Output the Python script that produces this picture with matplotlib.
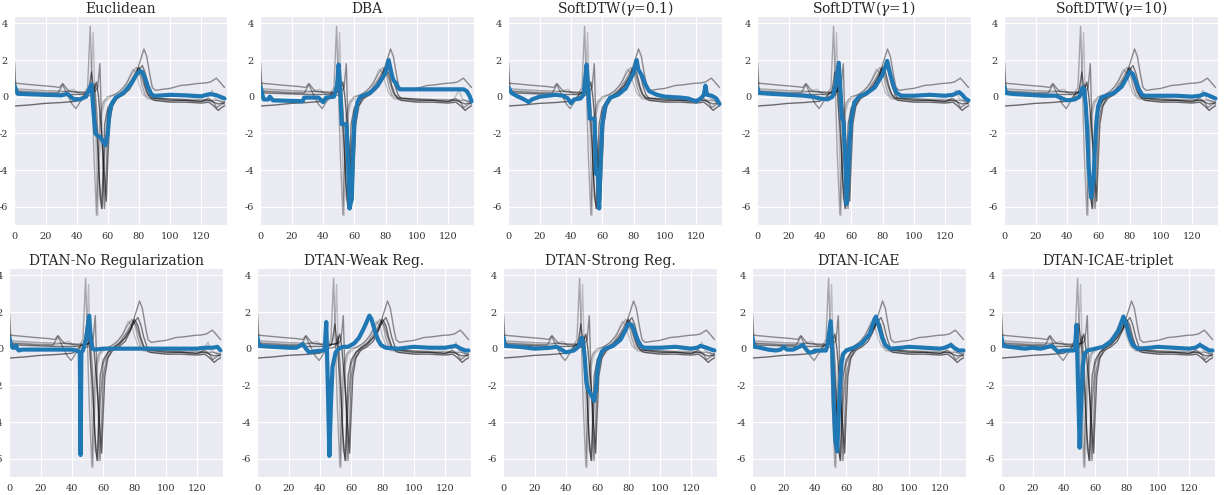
import matplotlib
matplotlib.use('Agg')
import matplotlib.pyplot as plt
import seaborn as sns

sns.set_style('darkgrid')
plt.rcParams['font.family'] = ['DejaVu Serif']
plt.rcParams['mathtext.fontset'] = 'dejavuserif'
plt.rcParams['axes.unicode_minus'] = False

# ---------------- data: input (gray) series, keypoints (x, y) ----------------
g1_x = [0, 1, 3, 10, 20, 30, 40, 45, 47, 48, 49.5, 51, 53, 54.5, 56, 57, 58, 60, 63, 66, 70, 74, 77, 80, 82.2, 84, 86, 88, 90, 95, 100, 110, 120, 125, 128, 131, 133, 135]
g1_y = [1.9, 0.3, 0.2, 0.18, 0.15, 0.12, 0.12, 0.15, 0.2, 0.5, 1.35, 0.3, -2.0, -4.5, -6.1, -4.0, -1.5, -0.6, -0.2, 0.05, 0.25, 0.6, 1.0, 1.45, 1.7, 1.3, 0.6, 0.1, -0.1, -0.15, -0.2, -0.2, -0.25, -0.2, -0.3, -0.4, -0.35, -0.4]

g2_x = [0, 5, 15, 25, 29, 31, 33, 35, 40, 45, 50, 52, 53.5, 54.9, 56, 57.9, 59, 60, 62, 65, 70, 74, 78, 81, 83.2, 85, 87, 88.6, 90.7, 95, 100, 106.7, 112, 118, 123, 126, 129.8, 132, 135]
g2_y = [0.74, 0.7, 0.62, 0.55, 0.5, 0.72, 0.5, 0.3, 0.25, 0.25, 0.25, 0.3, 0.5, 1.8, -1.5, -6.1, -4.0, -1.5, -0.6, -0.1, 0.2, 0.6, 1.2, 2.0, 2.6, 2.2, 1.2, 0.5, 0.34, 0.4, 0.45, 0.61, 0.65, 0.72, 0.75, 0.8, 1.01, 0.8, 0.5]

g3_x = [0, 10, 19, 30, 40, 43, 46, 49, 51, 52.7, 54, 56, 58, 59, 60, 61, 63, 66, 70, 74, 77, 80, 82, 84, 86, 88, 90, 100, 110, 120, 125, 128, 131, 133, 135]
g3_y = [-0.51, -0.45, -0.37, -0.32, -0.25, -0.1, 0.2, 0.25, 0.3, 0.8, 0.0, -2.0, -4.5, -5.7, -3.5, -1.5, -0.5, -0.1, 0.1, 0.4, 0.9, 1.6, 1.3, 0.6, 0.1, -0.1, -0.2, -0.3, -0.3, -0.35, -0.3, -0.5, -0.75, -0.6, -0.5]

g4_x = [0, 10, 20, 30, 40, 45, 47, 48.7, 50, 51, 52.7, 54, 55, 57, 60, 64, 68, 72, 75, 78.3, 80, 82, 84, 86, 90, 100, 110, 120, 125, 130, 135]
g4_y = [0.43, 0.38, 0.33, 0.3, 0.25, 0.2, 0.5, 3.84, 0.0, -3.0, -6.45, -3.0, -1.0, -0.3, 0.0, 0.1, 0.3, 0.7, 1.2, 1.6, 1.4, 0.6, 0.1, -0.05, -0.1, -0.1, -0.15, -0.15, -0.2, -0.2, -0.3]

g5_x = [0, 10, 20, 30, 38, 42, 46, 48, 49.5, 50.6, 51.5, 52.5, 53.4, 54.5, 56, 58, 62, 66, 70, 73, 76, 78, 80, 82, 85, 90, 100, 110, 120, 124, 127, 129, 131, 135]
g5_y = [0.33, 0.3, 0.25, 0.22, 0.4, 0.1, 0.1, 0.3, 1.0, 3.5, 0.5, -3.0, -6.5, -3.5, -1.0, -0.3, 0.0, 0.2, 0.5, 0.9, 1.5, 1.3, 0.7, 0.2, -0.1, -0.2, -0.25, -0.2, -0.3, -0.1, 0.35, -0.1, -0.2, -0.3]

g6_x = [0, 10, 20, 28, 31, 34, 37, 39.5, 42, 45, 48, 50, 51.5, 53, 55, 56.5, 58, 60, 63, 67, 71, 75, 79, 81, 83, 85, 88, 95, 100, 110, 120, 125, 128, 130, 135]
g6_y = [0.3, 0.25, 0.2, 0.2, 0.65, 0.1, -0.4, -0.65, -0.3, 0.0, 0.05, 0.1, 0.7, -1.0, -5.5, -6.1, -3.0, -0.8, -0.2, 0.1, 0.4, 0.9, 1.5, 1.3, 0.7, 0.2, -0.05, -0.1, -0.15, -0.2, -0.25, -0.1, -0.3, -0.6, -0.3]

gray_series = [(g1_x, g1_y), (g2_x, g2_y), (g3_x, g3_y), (g4_x, g4_y), (g5_x, g5_y), (g6_x, g6_y)]
gray_alphas = [0.5, 0.42, 0.55, 0.3, 0.2, 0.4]

# ---------------- data: averages (blue), keypoints per method ----------------
titles = ['Euclidean', 'DBA', r'SoftDTW($\gamma$=0.1)', r'SoftDTW($\gamma$=1)', r'SoftDTW($\gamma$=10)',
          'DTAN-No Regularization', 'DTAN-Weak Reg.', 'DTAN-Strong Reg.', 'DTAN-ICAE', 'DTAN-ICAE-triplet']

euc_x = [0, 2, 10, 20, 30, 34, 38, 42, 46, 48.5, 49.5, 51, 52, 53, 55, 57, 58.5, 60, 61, 62.5, 65, 70, 75, 78, 80.5, 82, 84, 86, 88, 90, 100, 110, 120, 125, 127, 130, 135]
euc_y = [0.6, 0.16, 0.13, 0.1, 0.07, 0.15, -0.13, -0.15, 0.0, 0.5, 0.67, -1.0, -2.0, -2.1, -2.2, -2.45, -2.65, -2.0, -0.9, -0.4, -0.05, 0.2, 0.7, 1.15, 1.4, 1.35, 1.0, 0.5, 0.13, 0.04, 0.1, 0.07, 0.02, 0.13, 0.13, 0.07, -0.1]

dba_x = [0, 2, 5, 6, 8, 27, 28, 37, 39, 40, 42, 47, 49, 50, 51, 52, 55, 56, 57, 58.5, 59, 60, 61, 62, 64, 70, 75, 80, 82, 84, 85, 87, 88, 89, 90, 130, 132, 134, 135]
dba_y = [0.55, -0.15, -0.15, 0.0, -0.2, -0.25, -0.05, -0.05, -0.2, -0.3, -0.05, 0.0, 0.6, 1.75, 0.5, -1.5, -1.5, -3.5, -6.1, -5.5, -3.5, -1.3, -0.9, -0.3, 0.0, 0.2, 0.6, 1.3, 2.0, 1.2, 0.9, 0.7, 0.5, 0.4, 0.4, 0.4, 0.3, 0.0, -0.25]

sd01_x = [0, 2, 5, 10, 13, 15, 20, 25, 30, 35, 38, 40, 42, 46, 48, 50, 51, 52, 55, 56, 57, 58, 59, 60, 62, 65, 70, 75, 80, 82, 83, 85, 88, 90, 95, 100, 110, 115, 120, 123, 125, 126, 127, 130, 133, 135]
sd01_y = [0.5, 0.2, 0.05, -0.15, -0.3, -0.15, 0.0, 0.05, 0.1, 0.05, -0.1, -0.35, -0.15, -0.1, 0.1, 1.75, 0.5, -1.2, -1.2, -4.2, -4.0, -6.1, -3.5, -1.5, -0.5, -0.05, 0.1, 0.45, 1.3, 2.0, 1.5, 1.2, 0.6, 0.3, 0.1, 0.0, -0.05, -0.1, -0.25, -0.1, 0.1, 0.6, 0.1, 0.05, -0.1, -0.4]

sd1_x = [0, 1, 10, 20, 30, 35, 40, 45, 48, 50, 52, 53, 54, 55, 56, 57, 58, 59, 60, 62, 65, 70, 75, 80, 83, 85, 87, 89, 92, 100, 110, 120, 125, 129, 131, 133, 135]
sd1_y = [0.45, 0.2, 0.15, 0.1, 0.05, 0.0, -0.1, -0.15, 0.0, 0.6, 1.85, 0.5, -1.2, -1.3, -3.0, -5.85, -4.5, -2.5, -1.2, -0.3, 0.0, 0.2, 0.5, 1.2, 1.95, 1.2, 0.6, 0.2, 0.05, 0.05, 0.1, 0.05, 0.1, 0.25, 0.1, -0.1, -0.2]

sd10_x = [0, 1, 5, 15, 25, 33, 37, 40, 45, 48, 50, 51, 52, 53, 54, 55.5, 57, 58, 59, 60, 62, 65, 70, 75, 78, 80, 82, 84, 86, 88, 90, 100, 110, 120, 125, 128, 131, 135]
sd10_y = [0.55, 0.2, 0.15, 0.1, 0.05, 0.05, -0.1, -0.2, -0.15, 0.0, 0.5, 0.4, -0.5, -2.0, -4.0, -5.5, -4.5, -2.5, -1.2, -0.5, -0.05, 0.05, 0.2, 0.55, 1.0, 1.35, 1.25, 0.8, 0.4, 0.1, 0.05, 0.05, 0.05, 0.0, 0.05, 0.15, 0.05, -0.1]

dnr_x = [0, 1, 2, 3, 4.3, 5, 6, 8, 15, 30, 40, 43, 45, 45.5, 46, 47, 49, 51, 52, 53, 55, 60, 120, 125, 130, 133, 135]
dnr_y = [0.6, 0.2, 0.05, 0.05, 0.18, 0.0, -0.1, -0.05, -0.05, -0.05, -0.05, -0.1, -0.2, -5.8, -0.2, -0.1, 0.5, 1.8, 0.5, 0.0, -0.05, 0.0, 0.0, 0.05, 0.05, 0.1, -0.1]

dwk_x = [0, 1, 10, 20, 25, 27, 29, 31, 33, 36, 42, 43, 44, 45, 46, 47, 48, 50, 52, 55, 58, 62, 65, 68, 71.6, 73, 75, 77, 79, 82, 90, 100, 110, 120, 126.8, 130, 133, 135]
dwk_y = [0.6, 0.15, 0.1, 0.05, 0.05, 0.15, 0.25, 0.0, -0.2, -0.15, -0.1, 0.0, 1.45, -2.0, -5.85, -3.0, -1.0, -0.2, 0.0, 0.1, 0.1, 0.3, 0.6, 1.1, 1.8, 1.6, 1.0, 0.5, 0.2, 0.05, 0.0, 0.1, 0.05, 0.05, 0.15, 0.0, -0.1, -0.1]

dst_x = [0, 1, 10, 20, 30, 34, 38, 40, 45, 48, 50, 51, 52, 53, 54, 56, 58, 59, 60, 61, 63, 65, 70, 75, 78, 80, 82, 84, 86, 88, 90, 100, 110, 120, 124, 126, 130, 133, 135]
dst_y = [0.6, 0.15, 0.1, 0.0, 0.05, 0.1, -0.1, -0.2, -0.1, 0.1, 0.6, 0.3, -0.5, -1.8, -2.2, -2.5, -2.85, -2.3, -1.3, -0.6, -0.15, 0.0, 0.15, 0.5, 1.0, 1.35, 1.3, 0.9, 0.45, 0.15, 0.05, 0.05, 0.1, 0.0, 0.05, 0.15, 0.05, -0.05, -0.1]

dic_x = [0, 1, 5, 10, 15, 18, 20, 22, 26, 30, 32, 34, 36, 38, 40, 47, 48, 50, 51, 52, 53, 54.2, 55, 56, 57, 58, 60, 65, 70, 75, 78, 79, 81, 83, 85, 88, 95, 100, 110, 120, 123, 127, 129, 132, 135]
dic_y = [0.6, 0.1, 0.05, -0.05, -0.1, -0.05, 0.1, -0.05, -0.05, 0.1, 0.2, 0.0, -0.2, -0.2, -0.1, -0.1, 0.2, 1.5, 0.0, -3.0, -5.0, -5.6, -4.0, -2.0, -0.8, -0.3, -0.1, 0.05, 0.3, 0.8, 1.6, 1.75, 1.2, 0.6, 0.2, 0.0, 0.05, 0.1, 0.05, 0.0, 0.05, 0.2, 0.05, -0.1, -0.1]

dtr_x = [0, 1, 5, 10, 15, 20, 25, 30, 32, 34, 36, 40, 46, 47, 48, 49, 50, 51, 52, 53, 55, 60, 65, 70, 75, 77, 78, 80, 82, 84, 87, 95, 100, 110, 120, 124, 127, 130, 133, 135]
dtr_y = [0.6, 0.15, 0.1, 0.05, 0.0, 0.05, 0.0, 0.1, 0.15, 0.0, -0.15, -0.1, -0.1, 0.0, 1.3, -2.0, -5.4, -3.0, -1.0, -0.3, -0.1, 0.0, 0.1, 0.4, 1.0, 1.5, 1.75, 1.3, 0.6, 0.2, 0.0, 0.05, 0.1, 0.05, 0.0, 0.05, 0.2, 0.05, -0.1, -0.1]

avg_series = [(euc_x, euc_y), (dba_x, dba_y), (sd01_x, sd01_y), (sd1_x, sd1_y), (sd10_x, sd10_y),
              (dnr_x, dnr_y), (dwk_x, dwk_y), (dst_x, dst_y), (dic_x, dic_y), (dtr_x, dtr_y)]

xticks = [0, 20, 40, 60, 80, 100, 120]
yticks = [-6, -4, -2, 0, 2, 4]

# ---------------- layout ----------------
W, H = 1225, 495
fig = plt.figure(figsize=(W / 100, H / 100), dpi=100)
top_lefts = [14, 260, 508, 757, 1004]
bot_lefts = [9, 257, 503, 752, 1001]
aw = 214
rows = [(top_lefts, 16, 225), (bot_lefts, 268, 477)]

idx = 0
for lefts, ytop, ybot in rows:
    for left in lefts:
        ax = fig.add_axes([left / W, (H - ybot) / H, (aw - (1 if left == 14 else 0)) / W, (ybot - ytop) / H])
        for (gx, gy), a in zip(gray_series, gray_alphas):
            ax.plot(gx, gy, color='k', alpha=a, lw=1.0)
        bx, by = avg_series[idx]
        ax.plot(bx, by, color='#1f77b4', lw=3.0, solid_capstyle='round')
        ax.set_xlim(-0.3, 136.6)
        ax.set_ylim(-7.0, 4.4)
        ax.set_xticks(xticks)
        ax.set_yticks(yticks)
        ax.tick_params(axis='x', labelsize=7, pad=1.5, colors='#333333')
        ax.tick_params(axis='y', labelsize=7, pad=0.8, colors='#333333')
        ax.set_title(titles[idx], fontsize=10, pad=2, color='#262626')
        idx += 1

fig.savefig('out.png', dpi=100)
